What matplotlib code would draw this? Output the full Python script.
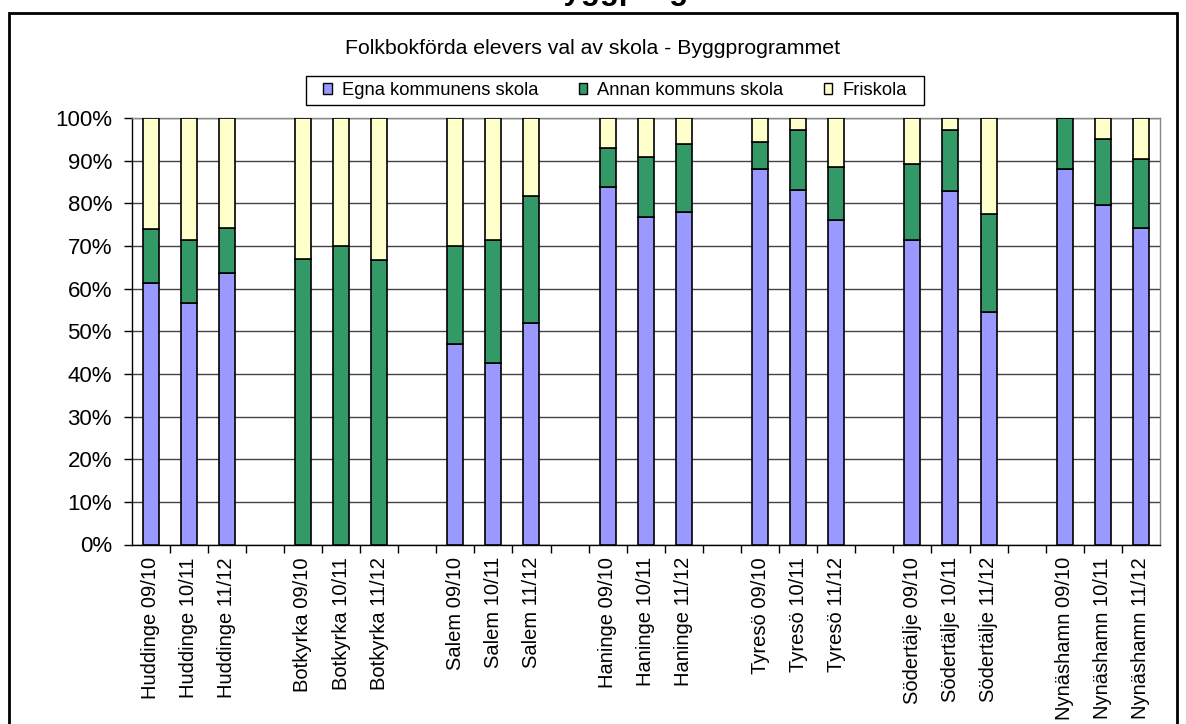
import matplotlib.pyplot as plt
from matplotlib.patches import Patch, Rectangle

plt.rcParams['font.family'] = ['Liberation Sans', 'DejaVu Sans']

kommuner = ['Huddinge', 'Botkyrka', 'Salem', 'Haninge', 'Tyresö', 'Södertälje', 'Nynäshamn']
lasar = ['09/10', '10/11', '11/12']

# andelar i procent, en post per stapel (kommun x läsår)
egna = [61.2, 56.6, 63.6, 0.0, 0.0, 0.0, 47.0, 42.6, 52.0,
        83.8, 76.8, 78.0, 88.0, 83.1, 76.0, 71.4, 83.0, 54.5,
        88.0, 79.6, 74.3]
annan = [12.7, 14.8, 10.7, 66.9, 69.9, 66.6, 22.9, 28.8, 29.8,
         9.2, 14.0, 15.8, 6.3, 14.0, 12.4, 17.8, 14.1, 23.1,
         12.0, 15.4, 16.1]
fri = [26.1, 28.6, 25.7, 33.1, 30.1, 33.4, 30.1, 28.6, 18.2,
       7.0, 9.2, 6.2, 5.7, 2.9, 11.6, 10.8, 2.9, 22.4,
       0.0, 5.0, 9.6]

serier = ['Egna kommunens skola', 'Annan kommuns skola', 'Friskola']
farger = ['#9999FF', '#339966', '#FFFFCC']

# positioner: tre staplar per kommun, en tom plats emellan
pos = []
etiketter = []
for g, k in enumerate(kommuner):
    for j, ar in enumerate(lasar):
        pos.append(g * 4 + j)
        etiketter.append(k + ' ' + ar)
nslots = len(kommuner) * 4 - 1

W, H = 1186, 724
fig = plt.figure(figsize=(W / 100, H / 100), dpi=100)
ax = fig.add_axes([131.5 / W, 1 - 544.5 / H, 1028.5 / W, 426.5 / H])

bredd = 0.42
botten = [0.0] * len(pos)
for vals, f in zip([egna, annan, fri], farger):
    ax.bar(pos, vals, bredd, bottom=botten, color=f, edgecolor='black',
           linewidth=1.2, zorder=3)
    botten = [b + v for b, v in zip(botten, vals)]

ax.set_xlim(-0.5, nslots - 0.5)
ax.set_ylim(0, 100)
ax.set_yticks(range(0, 101, 10))
ax.set_yticklabels([f'{v}%' for v in range(0, 101, 10)])
ax.yaxis.grid(True, color='#444444', linewidth=1, zorder=0)
ax.tick_params(axis='y', direction='out', length=6, width=1, pad=8,
               labelsize=16)

ax.set_xticks(pos)
ax.set_xticklabels(etiketter, rotation=90, fontsize=14.5)
ax.set_xticks([i - 0.5 for i in range(1, nslots)], minor=True)
ax.tick_params(axis='x', which='major', length=0, pad=9)
ax.tick_params(axis='x', which='minor', direction='out', length=6, width=1)

ax.spines['left'].set_color('black')
ax.spines['bottom'].set_color('black')
ax.spines['top'].set_color('#888888')
ax.spines['right'].set_color('#888888')
for s in ax.spines.values():
    s.set_linewidth(1)

fig.text(593 / W, 1 - 48 / H, 'Folkbokförda elevers val av skola - Byggprogrammet',
         ha='center', va='center', fontsize=15.3)

# avskuren huvudrubrik längst upp
fig.text(672 / W, 1 + 1.5 / H, 'Byggprogrammet', ha='center',
         va='baseline', fontsize=22.5, fontweight='bold')

handles = [Patch(facecolor=f, edgecolor='black', linewidth=1) for f in farger]
leg = fig.legend(handles, serier, loc='center', ncol=3,
                 bbox_to_anchor=(615 / W, 1 - 90.5 / H), fontsize=13.2,
                 frameon=False, handlelength=0.45, handleheight=0.55,
                 handletextpad=0.55, columnspacing=2.22, borderpad=0.2)
fig.add_artist(Rectangle((306 / W, 1 - 105 / H), 618 / W, 29 / H,
                         transform=fig.transFigure, fill=False,
                         edgecolor='black', linewidth=1))

fig.add_artist(Rectangle((9 / W, -0.1), 1168 / W, 1.1 - 13 / H,
                         transform=fig.transFigure, fill=False,
                         edgecolor='black', linewidth=2, clip_on=False))

fig.savefig('out.png', dpi=100)
